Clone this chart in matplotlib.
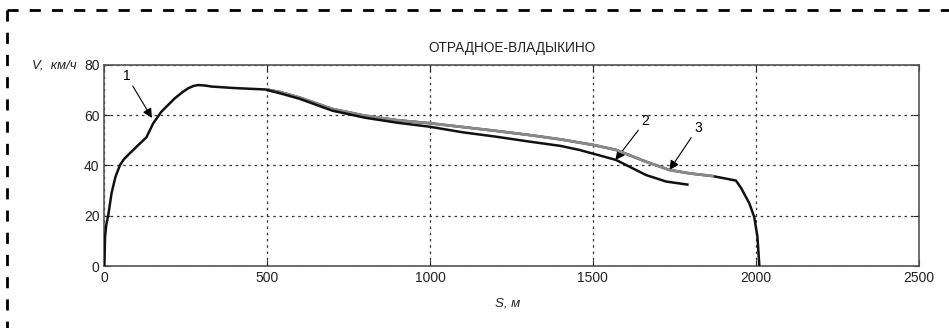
import matplotlib.pyplot as plt
from matplotlib.lines import Line2D

# curve 1 - full run (black)
s1 = [0, 2, 6, 12, 22, 34, 48, 60, 73, 99, 129, 150, 175, 216, 240, 257, 275, 288, 310,
      329, 400, 500, 540, 600, 700, 800, 900, 1000, 1100, 1200, 1300, 1400, 1500, 1571,
      1663, 1735, 1800, 1867, 1939, 1955, 1980, 1995, 2005, 2011]
v1 = [0, 11.7, 16.5, 20.3, 29, 35.5, 40.2, 42.5, 44.2, 47.5, 51.2, 56.8, 61.4, 66.7, 69.2,
      70.7, 71.7, 72, 71.8, 71.4, 70.8, 70.2, 69.2, 67, 62.5, 59.8, 58, 56.8, 55.3, 53.8,
      52.2, 50.4, 48.2, 46.2, 41.5, 38.2, 36.8, 35.8, 34, 31, 25, 19.6, 11.7, 0]

# curve 2 - lower branch (black)
s2 = [500, 540, 600, 700, 800, 900, 1000, 1100, 1200, 1305, 1400, 1458, 1571, 1663, 1725, 1790]
v2 = [70, 68.7, 66.5, 61.8, 59, 57, 55.4, 53.2, 51.5, 49.5, 47.8, 46.2, 42.2, 36.2, 33.6, 32.4]

# curve 3 - grey
s3 = [500, 540, 600, 700, 800, 900, 1000, 1100, 1200, 1300, 1400, 1500, 1571, 1663, 1735, 1800, 1867]
v3 = [70.2, 69.2, 67, 62.5, 59.8, 58, 56.8, 55.3, 53.8, 52.2, 50.4, 48.2, 46.2, 41.5, 38.2, 36.8, 35.8]

xticks = [0, 500, 1000, 1500, 2000, 2500]
yticks = [0, 20, 40, 60, 80]

plt.rcParams['font.family'] = ['Liberation Sans', 'DejaVu Sans']

fig = plt.figure(figsize=(9.49, 3.28), dpi=100)
ax = fig.add_axes([0.110, 0.189, 0.858, 0.613])

ax.plot(s1, v1, color='#111111', lw=1.8, zorder=3)
ax.plot(s3, v3, color='#8a8a8a', lw=2.0, zorder=4)
ax.plot(s2, v2, color='#111111', lw=1.8, zorder=5)

ax.set_xlim(0, 2500)
ax.set_ylim(0, 80)
ax.set_xticks(xticks)
ax.set_yticks(yticks)
ax.tick_params(direction='in', top=True, right=True, length=4, labelsize=10, colors='#222222')
ax.grid(True, linestyle=(0, (2, 3)), color='#333333', lw=0.9)
for sp in ax.spines.values():
    sp.set_color('#555555')
    sp.set_linewidth(1.2)

ax.set_title('ОТРАДНОЕ-ВЛАДЫКИНО', fontsize=9.8, pad=9, color='#222222')

fig.text(77 / 949, 1 - 65 / 328, 'V,  км/ч', ha='right', va='center',
         fontsize=9.5, style='italic', color='#222222')
fig.text(495 / 949, 1 - 303 / 328, 'S, м', ha='left', va='center',
         fontsize=9.5, style='italic', color='#222222')

arr = dict(arrowstyle='-|>', color='k', lw=0.8, mutation_scale=14, shrinkA=0, shrinkB=0)
ax.annotate('1', xy=(146, 58.9), xytext=(69, 75.5), fontsize=10, ha='center', va='center',
            arrowprops=arr)
ax.annotate('2', xy=(1569, 42.2), xytext=(1660, 57.5), fontsize=10, ha='center', va='center',
            arrowprops=arr)
ax.annotate('3', xy=(1735, 38.2), xytext=(1822, 55), fontsize=10, ha='center', va='center',
            arrowprops=arr)

# dashed frame around the figure
dash = dict(color='k', lw=2, linestyle=(0, (4, 4)))
fig.add_artist(Line2D([7 / 949, 1], [1 - 10 / 328, 1 - 10 / 328], transform=fig.transFigure, **dash))
fig.add_artist(Line2D([7 / 949, 7 / 949], [1 - 10 / 328, 0], transform=fig.transFigure, **dash))

fig.savefig('out.png', dpi=100)
